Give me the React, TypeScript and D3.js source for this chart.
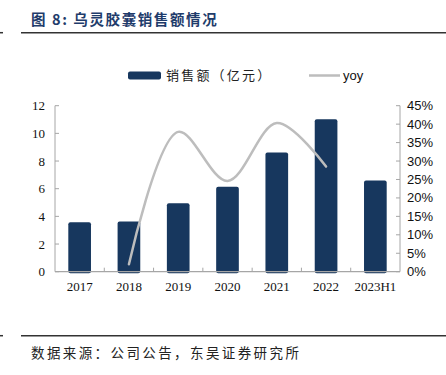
import React from "react";
import * as d3 from "d3";

const categories = ["2017", "2018", "2019", "2020", "2021", "2022", "2023H1"];
const sales = [3.57, 3.63, 4.95, 6.15, 8.62, 11.02, 6.6];
const yoyCats = ["2018", "2019", "2020", "2021", "2022"];
const yoy = [2.0, 37.9, 24.6, 40.3, 28.5];
const leftTicks = [0, 2, 4, 6, 8, 10, 12];
const rightTicks = [0, 5, 10, 15, 20, 25, 30, 35, 40, 45];

const W = 446;
const H = 375;
const x0 = 55;
const x1 = 400;
const yTop = 105.7;
const yBot = 271.7;
const barColor = "#17375E";
const lineColor = "#BDBDBD";
const axisColor = "#A6A6A6";
const titleColor = "#1F3C6B";

export default function App() {
  const x = d3.scaleBand<string>().domain(categories).range([x0, x1]).paddingInner(0.54).paddingOuter(0.27);
  const xStep = d3.scaleBand<string>().domain(categories).range([x0, x1]);
  const yL = d3.scaleLinear().domain([0, 12]).range([yBot, yTop]);
  const yR = d3.scaleLinear().domain([0, 45]).range([yBot, yTop]);
  const line = d3
    .line<number>()
    .x((_, i) => (xStep(yoyCats[i]) as number) + xStep.bandwidth() / 2)
    .y((d) => yR(d))
    .curve(d3.curveCatmullRom.alpha(0.5));

  const serif = "'Liberation Serif', 'Times New Roman', serif";
  const sans = "'Liberation Sans', Arial, sans-serif";
  const cjk = "'Noto Sans CJK SC', sans-serif";

  return (
    <svg width={W} height={H} style={{ position: "absolute", left: 0, top: 0, background: "#fff" }}>
      {/* title */}
      <text x={31} y={24.5} fontFamily={cjk} fontWeight="bold" fontSize={14.5} fill={titleColor} letterSpacing={1.6}>
        图 8:  乌灵胶囊销售额情况
      </text>
      <line x1={0} x2={3} y1={32.7} y2={32.7} stroke="#333" strokeWidth={1.5} />
      <line x1={21} x2={W} y1={32.7} y2={32.7} stroke="#333" strokeWidth={1.5} />

      {/* legend */}
      <rect x={128} y={71.5} width={33} height={8} rx={2} fill={barColor} />
      <text x={166} y={80} fontFamily={cjk} fontSize={13} fill="#222" letterSpacing={2.2}>
        销售额（亿元）
      </text>
      <line x1={309} x2={340} y1={75.5} y2={75.5} stroke={lineColor} strokeWidth={2.5} />
      <text x={343} y={80} fontFamily={sans} fontSize={13} fill="#111">
        yoy
      </text>

      {/* left axis */}
      <line x1={x0} x2={x0} y1={yTop} y2={yBot} stroke={axisColor} strokeWidth={1} />
      {leftTicks.map((t) => (
        <g key={"l" + t}>
          <line x1={x0} x2={x0 + 4} y1={yL(t)} y2={yL(t)} stroke={axisColor} />
          <text x={45} y={yL(t)} dy="0.35em" textAnchor="end" fontFamily={serif} fontSize={13} fill="#111">
            {t}
          </text>
        </g>
      ))}

      {/* right axis */}
      <line x1={x1} x2={x1} y1={yTop} y2={yBot} stroke={axisColor} strokeWidth={1} />
      {rightTicks.map((t) => (
        <g key={"r" + t}>
          <line x1={x1 - 4} x2={x1} y1={yR(t)} y2={yR(t)} stroke={axisColor} />
          <text x={407} y={yR(t)} dy="0.35em" textAnchor="start" fontFamily={sans} fontSize={13} fill="#111">
            {t + "%"}
          </text>
        </g>
      ))}

      {/* bars */}
      {categories.map((c, i) => (
        <rect
          key={c}
          x={x(c)}
          y={yL(sales[i])}
          width={x.bandwidth()}
          height={yBot - yL(sales[i]) + 1.5}
          rx={2}
          fill={barColor}
        />
      ))}

      {/* bottom axis */}
      <line x1={x0} x2={x1} y1={yBot} y2={yBot} stroke={axisColor} strokeWidth={1.2} />
      {categories.slice(1).map((c) => (
        <line key={"t" + c} x1={xStep(c)} x2={xStep(c)} y1={yBot} y2={yBot - 4} stroke={axisColor} />
      ))}
      {categories.map((c) => (
        <text
          key={"x" + c}
          x={(xStep(c) as number) + xStep.bandwidth() / 2}
          y={291}
          textAnchor="middle"
          fontFamily={serif}
          fontSize={13}
          fill="#111"
        >
          {c}
        </text>
      ))}

      {/* yoy line */}
      <path d={line(yoy) || ""} fill="none" stroke={lineColor} strokeWidth={2.5} strokeLinecap="round" />

      {/* footer */}
      <line x1={0} x2={3} y1={335.7} y2={335.7} stroke="#333" strokeWidth={1.5} />
      <line x1={21} x2={W} y1={335.7} y2={335.7} stroke="#333" strokeWidth={1.5} />
      <text x={31} y={358} fontFamily={cjk} fontSize={13.5} fill="#222" letterSpacing={2.4}>
        数据来源：公司公告，东吴证券研究所
      </text>
    </svg>
  );
}
